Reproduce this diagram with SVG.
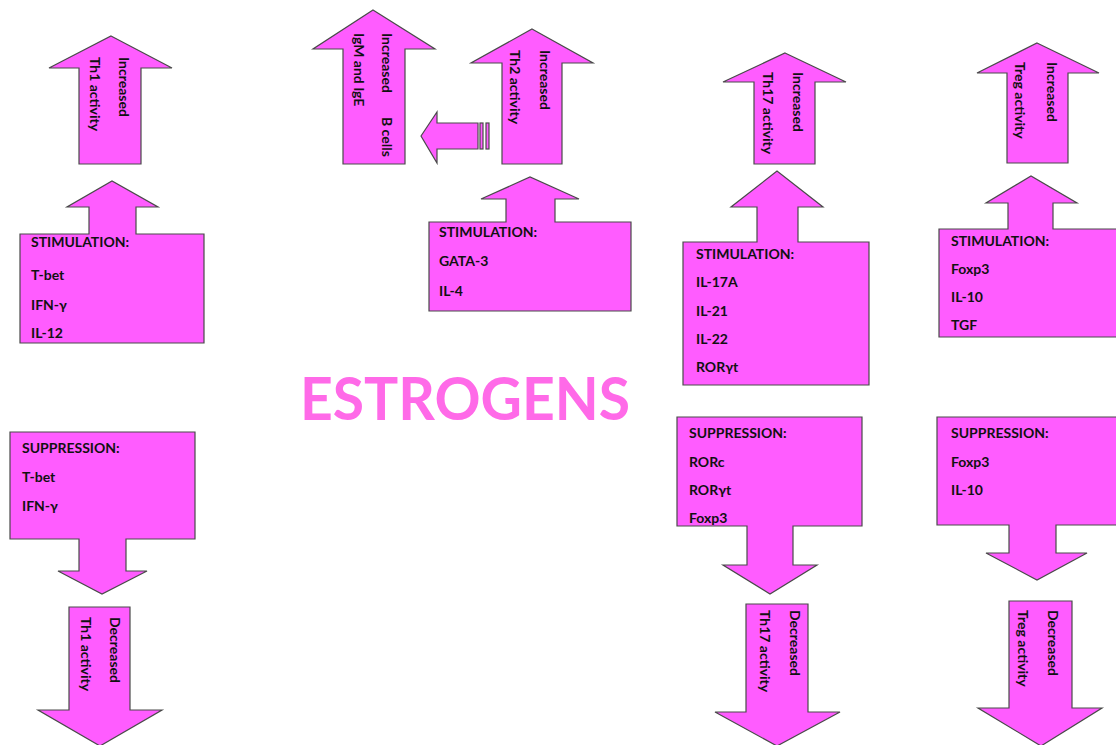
<svg xmlns="http://www.w3.org/2000/svg" width="1116" height="745" viewBox="0 0 1116 745">
<style>
.sh{fill:#FF5CFF;stroke:#4a4a4a;stroke-width:1.2;stroke-linejoin:miter}
.t{font-family:Lato,"Liberation Sans",sans-serif;font-weight:bold;font-size:14px;fill:#111}
.big{font-family:Lato,"Liberation Sans",sans-serif;font-weight:bold;font-size:60px;fill:#FF6AE8}
</style>
<rect width="1116" height="745" fill="#fff"/>

<g id="connectors">
<polygon class="sh" points="421,136 437,112 437,123 478,123 478,149 437,149 437,163"/>
<rect class="sh" x="480" y="123" width="3" height="26"/>
<rect class="sh" x="486" y="123" width="3" height="26"/>
</g>

<g id="th1-up">
<polygon class="sh" points="111,36 172,68 141,68 141,164 79,164 79,68 49,68"/>
<text class="t" transform="translate(119,57) rotate(90)">Increased</text>
<text class="t" transform="translate(90,57) rotate(90)">Th1 activity</text>
</g>
<g id="th1-stim">
<path class="sh" d="M20,234 H89 V207 H67 L112,181 L158,207 H136 V234 H204 V343 H20 Z"/>
<text class="t" x="31" y="247">STIMULATION:</text>
<text class="t" x="31" y="280">T-bet</text>
<text class="t" x="31" y="310">IFN-γ</text>
<text class="t" x="31" y="338">IL-12</text>
</g>
<g id="th1-supp">
<path class="sh" d="M10,432 H195 V539 H126 V571 H147 L102,594 L58,571 H79 V539 H10 Z"/>
<text class="t" x="22" y="453">SUPPRESSION:</text>
<text class="t" x="22" y="482">T-bet</text>
<text class="t" x="22" y="511">IFN-γ</text>
</g>
<g id="th1-down">
<polygon class="sh" points="69,607 130,607 130,710 162,710 100,746 38,710 69,710"/>
<text class="t" transform="translate(110,617) rotate(90)">Decreased</text>
<text class="t" transform="translate(81,617) rotate(90)">Th1 activity</text>
</g>

<g id="bcells">
<polygon class="sh" points="373,10 435,49 405,49 405,164 343,164 343,49 313,49"/>
<text class="t" transform="translate(382,33) rotate(90)"><tspan x="0">Increased</tspan><tspan x="84">B cells</tspan></text>
<text class="t" transform="translate(354,33) rotate(90)">IgM and IgE</text>
</g>
<g id="th2-up">
<polygon class="sh" points="532,29 593,63 562,63 562,164 502,164 502,63 471,63"/>
<text class="t" transform="translate(540,50) rotate(90)">Increased</text>
<text class="t" transform="translate(510,50) rotate(90)">Th2 activity</text>
</g>
<g id="th2-stim">
<path class="sh" d="M429,222 H506 V199 H481 L530,177 L579,199 H555 V222 H631 V311 H429 Z"/>
<text class="t" x="439" y="237">STIMULATION:</text>
<text class="t" x="439" y="266">GATA-3</text>
<text class="t" x="439" y="296">IL-4</text>
</g>

<g id="estrogens">
<text class="big" x="300" y="420" textLength="330" lengthAdjust="spacingAndGlyphs">ESTROGENS</text>
</g>

<g id="th17-up">
<polygon class="sh" points="785,53 846,82 815,82 815,164 754,164 754,82 723,82"/>
<text class="t" transform="translate(793,72) rotate(90)">Increased</text>
<text class="t" transform="translate(763,72) rotate(90)">Th17 activity</text>
</g>
<g id="th17-stim">
<path class="sh" d="M683,242 H757 V207 H731 L777,171 L823,207 H798 V242 H869 V385 H683 Z"/>
<text class="t" x="696" y="259">STIMULATION:</text>
<text class="t" x="696" y="287">IL-17A</text>
<text class="t" x="696" y="316">IL-21</text>
<text class="t" x="696" y="344">IL-22</text>
<text class="t" x="696" y="372">RORγt</text>
</g>
<g id="th17-supp">
<path class="sh" d="M677,417 H862 V526 H793 V565 H817 L770,594 L723,565 H747 V526 H677 Z"/>
<text class="t" x="689" y="438">SUPPRESSION:</text>
<text class="t" x="689" y="467">RORc</text>
<text class="t" x="689" y="495">RORγt</text>
<text class="t" x="689" y="523">Foxp3</text>
</g>
<g id="th17-down">
<polygon class="sh" points="746,604 808,604 808,712 840,712 777,746 715,712 746,712"/>
<text class="t" transform="translate(790,610) rotate(90)">Decreased</text>
<text class="t" transform="translate(760,610) rotate(90)">Th17 activity</text>
</g>

<g id="treg-up">
<polygon class="sh" points="1037,43 1099,73 1068,73 1068,163 1007,163 1007,73 977,73"/>
<text class="t" transform="translate(1047,62) rotate(90)">Increased</text>
<text class="t" transform="translate(1015,62) rotate(90)">Treg activity</text>
</g>
<g id="treg-stim">
<path class="sh" d="M939,229 H1008 V203 H986 L1031,176 L1077,203 H1053 V229 H1130 V337 H939 Z"/>
<text class="t" x="951" y="246">STIMULATION:</text>
<text class="t" x="951" y="274">Foxp3</text>
<text class="t" x="951" y="302">IL-10</text>
<text class="t" x="951" y="330">TGF</text>
</g>
<g id="treg-supp">
<path class="sh" d="M937,417 H1130 V525 H1056 V553 H1087 L1037,580 L986,553 H1009 V525 H937 Z"/>
<text class="t" x="951" y="438">SUPPRESSION:</text>
<text class="t" x="951" y="467">Foxp3</text>
<text class="t" x="951" y="495">IL-10</text>
</g>
<g id="treg-down">
<polygon class="sh" points="1009,601 1072,601 1072,708 1102,708 1041,746 978,708 1009,708"/>
<text class="t" transform="translate(1048,610) rotate(90)">Decreased</text>
<text class="t" transform="translate(1018,610) rotate(90)">Treg activity</text>
</g>
</svg>
